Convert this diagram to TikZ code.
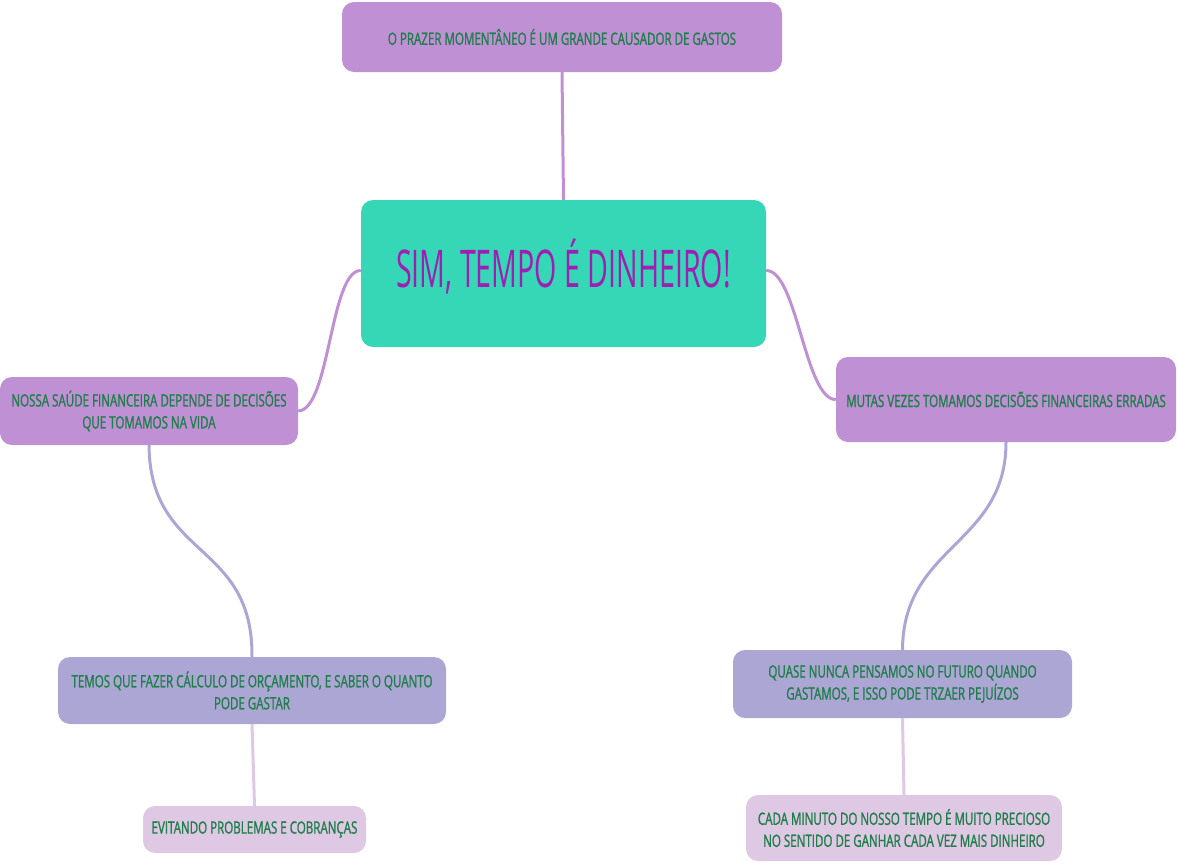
\documentclass[tikz,border=0pt]{standalone}
\usepackage{fontspec}
\setmainfont{Open Sans}
\newfontfamily\boxfont[FakeStretch=0.68,FakeBold=1.2]{Open Sans}
\newfontfamily\titlefont[FakeStretch=0.55]{Open Sans}
\usepackage{tikz}
\usetikzlibrary{arrows,arrows.meta}

\definecolor{lilac}{HTML}{BF90D4}
\definecolor{lavender}{HTML}{ACA6D4}
\definecolor{pinkish}{HTML}{DFC8E3}
\definecolor{mint}{HTML}{36D7B7}
\definecolor{txtgreen}{HTML}{1F7F4A}
\definecolor{titlepurple}{HTML}{A01EB4}

\begin{document}
\begin{tikzpicture}[x=1pt,y=-1pt,
box/.style={rounded corners=12pt,inner sep=2pt,align=center,text=txtgreen,font=\boxfont\fontsize{17}{22}\selectfont},
main/.style={box,fill=mint,text=titlepurple,font=\titlefont\fontsize{52}{60}\selectfont},
link/.style={line width=3pt} ]

\useasboundingbox (0,0) rectangle (1177,863);

\node[box,fill=lilac,minimum width=440pt,minimum height=70pt](A) at (562,37) {O PRAZER MOMENTÂNEO É UM GRANDE CAUSADOR DE GASTOS};

\node[main,minimum width=405pt,minimum height=147pt](B) at (563.5,273.5) {\raisebox{-14pt}[0pt][0pt]{SIM, TEMPO É DINHEIRO!}};

\node[box,fill=lilac,minimum width=298pt,minimum height=68pt](C) at (149,411) {NOSSA SAÚDE FINANCEIRA DEPENDE DE DECISÕES\\QUE TOMAMOS NA VIDA};

\node[box,fill=lilac,minimum width=340pt,minimum height=85pt](D) at (1006,399.5) {MUTAS VEZES TOMAMOS DECISÕES FINANCEIRAS ERRADAS};

\node[box,fill=lavender,minimum width=388pt,minimum height=67pt](E) at (252,690.5) {TEMOS QUE FAZER CÁLCULO DE ORÇAMENTO, E SABER O QUANTO\\PODE GASTAR};

\node[box,fill=lavender,minimum width=339pt,minimum height=68pt](F) at (902.5,684) {QUASE NUNCA PENSAMOS NO FUTURO QUANDO\\GASTAMOS, E ISSO PODE TRZAER PEJUÍZOS};

\node[box,fill=pinkish,minimum width=223pt,minimum height=47pt](G) at (254.5,829.5) {EVITANDO PROBLEMAS E COBRANÇAS};

\node[box,fill=pinkish,minimum width=316pt,minimum height=66pt](H) at (904,828) {CADA MINUTO DO NOSSO TEMPO É MUITO PRECIOSO\\NO SENTIDO DE GANHAR CADA VEZ MAIS DINHEIRO};

\draw[link,lilac] (A.south) -- (B.north);

\draw[link,lilac] (B.west) ++(0,-3) .. controls (330,270) and (330,410) .. (C.east);

\draw[link,lilac] (B.east) ++(0,-3) .. controls (797,270) and (805,400) .. (D.west);

\draw[link,lavender] (C.south) .. controls (150,560) and (253,540) .. (E.north);

\draw[link,lavender] (D.south) .. controls (1006,545) and (903,545) .. (F.north);

\draw[link,pinkish] (E.south) -- (G.north);

\draw[link,pinkish] (F.south) -- (H.north);
\end{tikzpicture}
\end{document}
